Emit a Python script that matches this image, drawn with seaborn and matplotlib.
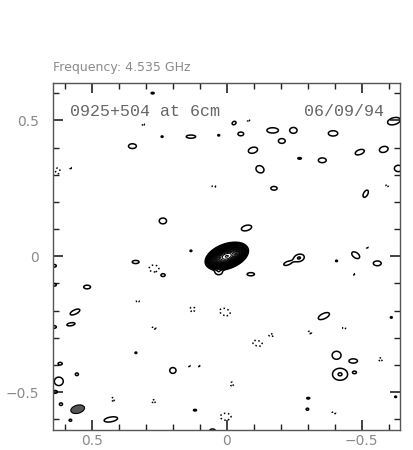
import numpy as np
import matplotlib
matplotlib.use("Agg")
import matplotlib.pyplot as plt
from matplotlib.patches import Ellipse
from matplotlib.ticker import MultipleLocator
import seaborn as sns


# Map header
freq_label = "Frequency: 4.535 GHz"
source_label = "0925+504 at 6cm"
date_label = "06/09/94"

# Clean components: offset x, offset y, peak (in units of lowest contour),
# sigma major, sigma minor, position angle (deg, data frame)
pos_x = [0.275, 0.35, 0.24, 0.133, 0.03, -0.027, -0.052, -0.17, -0.247, -0.204,
         -0.394, -0.62, -0.097, -0.27, -0.354, -0.493, -0.582, -0.123, -0.636, -0.175,
         -0.515, 0.237, -0.073, 0.133, 0.0, 0.03, -0.089, 0.338, 0.237, 0.518,
         0.563, 0.578, -0.268, -0.225, -0.407, -0.478, -0.558, -0.36, -0.61, 0.64,
         0.64, 0.64, 0.337, -0.407, -0.469, 0.618, 0.2, -0.42, -0.474, 0.556,
         0.623, 0.637, -0.302, -0.626, 0.615, 0.118, -0.299, 0.43, 0.58, 0.053]
pos_y = [0.60, 0.405, 0.44, 0.44, 0.445, 0.49, 0.45, 0.463, 0.463, 0.424,
         0.452, 0.497, 0.39, 0.36, 0.353, 0.383, 0.393, 0.32, 0.323, 0.25,
         0.23, 0.13, 0.104, 0.02, 0.0, -0.058, -0.066, -0.021, -0.069, -0.113,
         -0.205, -0.25, -0.006, -0.026, -0.017, 0.004, -0.026, -0.22, -0.225, -0.035,
         -0.105, -0.26, -0.355, -0.364, -0.385, -0.395, -0.42, -0.434, -0.427, -0.434,
         -0.46, -0.499, -0.522, -0.517, -0.544, -0.566, -0.5625, -0.6, -0.603, -0.64]
pos_amp = [1.6, 1.6, 1.5, 1.6, 1.5, 1.6, 1.6, 1.6, 1.6, 1.6,
           1.6, 1.6, 1.6, 1.6, 1.6, 1.6, 1.6, 1.6, 1.6, 1.6,
           1.6, 1.6, 1.6, 1.5, 1400, 1.8, 1.6, 1.6, 1.6, 1.6,
           1.6, 1.8, 2.1, 1.5, 1.5, 1.6, 1.6, 1.6, 1.5, 1.6,
           1.6, 1.6, 1.5, 1.6, 1.6, 1.6, 1.6, 2.1, 1.8, 1.6,
           1.6, 1.6, 1.6, 1.5, 1.6, 1.6, 1.6, 1.6, 1.6, 1.6]
pos_smaj = [0.006, 0.015, 0.004, 0.018, 0.004, 0.008, 0.011, 0.022, 0.014, 0.013,
            0.018, 0.025, 0.018, 0.007, 0.015, 0.018, 0.017, 0.016, 0.015, 0.012,
            0.015, 0.014, 0.020, 0.004, 0.022, 0.012, 0.014, 0.013, 0.009, 0.013,
            0.020, 0.014, 0.016, 0.016, 0.004, 0.017, 0.015, 0.023, 0.004, 0.008,
            0.008, 0.008, 0.004, 0.017, 0.016, 0.008, 0.012, 0.023, 0.006, 0.006,
            0.017, 0.008, 0.006, 0.004, 0.006, 0.006, 0.005, 0.026, 0.005, 0.010]
pos_smin = [0.003, 0.009, 0.003, 0.006, 0.003, 0.006, 0.007, 0.010, 0.011, 0.009,
            0.010, 0.013, 0.011, 0.003, 0.009, 0.009, 0.011, 0.013, 0.012, 0.007,
            0.008, 0.011, 0.010, 0.003, 0.012, 0.009, 0.006, 0.006, 0.006, 0.007,
            0.008, 0.005, 0.011, 0.007, 0.003, 0.010, 0.009, 0.010, 0.003, 0.005,
            0.005, 0.005, 0.003, 0.015, 0.008, 0.005, 0.011, 0.018, 0.004, 0.005,
            0.016, 0.005, 0.003, 0.003, 0.005, 0.003, 0.004, 0.009, 0.004, 0.005]
pos_pa = [0, 0, 0, 0, 0, -30, 0, 0, 0, 0,
          0, -15, -15, 0, 0, -20, -15, 30, 0, 0,
          -60, 0, -15, 0, -20, 0, 0, 0, 0, 0,
          -25, -10, -15, -20, 0, 35, 0, -25, 0, 0,
          0, 0, 0, 0, 0, 0, 0, 0, 0, 0,
          0, 0, 0, 0, 0, 0, 0, -10, 0, 0]

# Negative components (dotted contours)
neg_x = [0.31, -0.08, 0.627, 0.58, 0.048, -0.595, 0.27, 0.33, 0.127, 0.007,
         0.27, -0.52, -0.47, -0.435, -0.165, -0.114, -0.308, -0.57, 0.14, 0.104,
         -0.019, 0.422, 0.271, -0.397, 0.004]
neg_y = [0.485, 0.50, 0.314, 0.325, 0.257, 0.26, -0.045, -0.165, -0.195, -0.205,
         -0.264, 0.033, -0.066, -0.264, -0.29, -0.32, -0.28, -0.379, -0.403, -0.403,
         -0.47, -0.526, -0.533, -0.576, -0.59]
neg_amp = [-1.5] * 25
neg_smaj = [0.005, 0.005, 0.012, 0.004, 0.007, 0.005, 0.020, 0.006, 0.011, 0.022,
            0.007, 0.004, 0.004, 0.006, 0.010, 0.020, 0.007, 0.008, 0.004, 0.004,
            0.008, 0.007, 0.008, 0.007, 0.022]
neg_smin = [0.003, 0.003, 0.009, 0.003, 0.004, 0.004, 0.014, 0.003, 0.009, 0.014,
            0.005, 0.003, 0.003, 0.004, 0.005, 0.011, 0.005, 0.006, 0.003, 0.003,
            0.006, 0.006, 0.006, 0.004, 0.014]
neg_pa = [0, 0, 90, 0, 0, 0, 0, 0, 0, 20,
          0, 0, 0, 0, 0, 15, 0, 0, 0, 0,
          90, 90, 0, 0, 0]

# Restoring beam
beam_x, beam_y = 0.553, -0.5625
beam_major, beam_minor, beam_pa = 0.052, 0.030, -15

# Contour levels in units of the lowest one
low_levels = [-1, 1, 2, 4]
high_levels = [4 * 2 ** (k / 2.5) for k in range(1, 22)]


def gauss_map(xx, yy, xs, ys, amps, smaj, smin, pas):
    z = np.zeros_like(xx)
    for x0, y0, a, sa, sb, pa in zip(xs, ys, amps, smaj, smin, pas):
        t = np.deg2rad(pa)
        dx, dy = xx - x0, yy - y0
        u = dx * np.cos(t) + dy * np.sin(t)
        v = -dx * np.sin(t) + dy * np.cos(t)
        z += a * np.exp(-0.5 * (u / sa) ** 2 - 0.5 * (v / sb) ** 2)
    return z


grid = np.linspace(-0.68, 0.68, 900)
X, Y = np.meshgrid(grid, grid)
Z = gauss_map(X, Y, pos_x, pos_y, pos_amp, pos_smaj, pos_smin, pos_pa)
Z += gauss_map(X, Y, neg_x, neg_y, neg_amp, neg_smaj, neg_smin, neg_pa)


sns.set_style("ticks")
plt.rcParams["font.family"] = ["DejaVu Sans"]

fig = plt.figure(figsize=(4.13, 4.5), dpi=100)
ax = fig.add_axes([0.128, 0.045, 0.841, 0.771])

styles = ["dotted" if lv < 0 else "solid" for lv in low_levels]
ax.contour(X, Y, Z, levels=low_levels, colors="black", linewidths=1.1,
           linestyles=styles)
ax.contour(X, Y, Z, levels=high_levels, colors="black", linewidths=0.75,
           linestyles="solid")

ax.add_patch(Ellipse((beam_x, beam_y), beam_major, beam_minor, angle=beam_pa,
                     facecolor="#555555", edgecolor="black", linewidth=0.8))

ax.set_xlim(0.645, -0.643)
ax.set_ylim(-0.638, 0.638)
ax.set_aspect("auto")

ax.xaxis.set_major_locator(MultipleLocator(0.5))
ax.yaxis.set_major_locator(MultipleLocator(0.5))
ax.xaxis.set_minor_locator(MultipleLocator(0.1))
ax.yaxis.set_minor_locator(MultipleLocator(0.1))
ax.xaxis.set_major_formatter(lambda v, p: "0" if abs(v) < 1e-9 else f"{v:g}".replace("-", "\u2212"))
ax.yaxis.set_major_formatter(lambda v, p: "0" if abs(v) < 1e-9 else f"{v:g}".replace("-", "\u2212"))

ax.tick_params(which="both", direction="in", top=True, right=True,
               color="#222222", labelcolor="#8a8a8a", labelsize=10)
ax.tick_params(which="major", length=7, width=1.2, pad=10)
ax.tick_params(which="minor", length=4, width=1.0)
ax.tick_params(axis="x", which="major", pad=3)
for s in ax.spines.values():
    s.set_color("#555555")
    s.set_linewidth(1.0)

ax.text(0.049, 0.917, source_label, transform=ax.transAxes, ha="left",
        va="center", fontsize=12, color="#666666", family="Liberation Mono")
ax.text(0.953, 0.917, date_label, transform=ax.transAxes, ha="right",
        va="center", fontsize=12, color="#666666", family="Liberation Mono")

fig.text(0.128, 1 - 68 / 450, freq_label, ha="left", va="center",
         fontsize=9, color="#8a8a8a")

fig.savefig("out.png", dpi=100)
